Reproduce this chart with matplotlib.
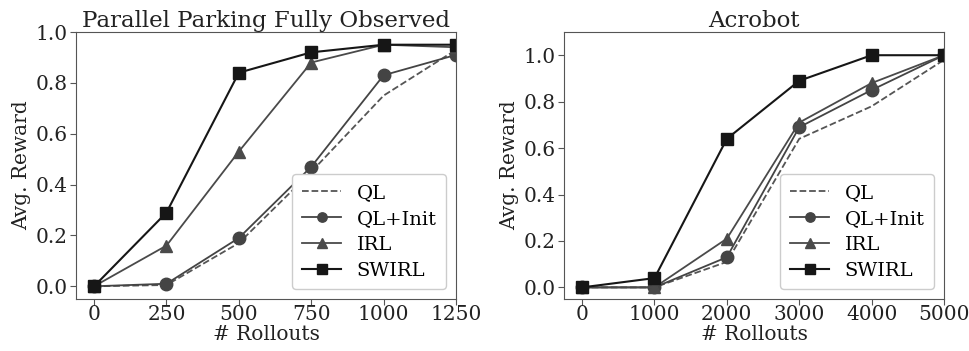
import matplotlib
matplotlib.use("Agg")
import matplotlib.pyplot as plt

plt.rcParams['font.family'] = ['DejaVu Serif']

park_x = [0, 250, 500, 750, 1000, 1250]
park_ql = [0.0, 0.005, 0.17, 0.45, 0.75, 0.93]
park_qlinit = [0.0, 0.01, 0.19, 0.47, 0.83, 0.91]
park_irl = [0.0, 0.16, 0.53, 0.88, 0.95, 0.94]
park_swirl = [0.0, 0.29, 0.84, 0.92, 0.95, 0.95]

acro_x = [0, 1000, 2000, 3000, 4000, 5000]
acro_ql = [0.0, 0.0, 0.11, 0.64, 0.78, 0.98]
acro_qlinit = [0.0, 0.0, 0.13, 0.69, 0.85, 1.0]
acro_irl = [0.0, 0.0, 0.21, 0.71, 0.88, 1.0]
acro_swirl = [0.0, 0.04, 0.64, 0.89, 1.0, 1.0]

fig = plt.figure(figsize=(9.7, 3.51), dpi=100)
ax1 = fig.add_axes([76/970, 1 - 299/351, 380/970, 267/351])
ax2 = fig.add_axes([564/970, 1 - 299/351, 380/970, 267/351])


def draw(ax, x, ql, qlinit, irl, swirl, title, xticks, xlim, ylim):
    ax.plot(x, ql, '--', color='#555555', lw=1.3, label='QL')
    ax.plot(x, qlinit, '-o', color='#444444', lw=1.3, ms=9, label='QL+Init')
    ax.plot(x, irl, '-^', color='#4a4a4a', lw=1.3, ms=9, label='IRL')
    ax.plot(x, swirl, '-s', color='#161616', lw=1.5, ms=9, label='SWIRL')
    ax.set_xlim(*xlim)
    ax.set_ylim(*ylim)
    ax.set_xticks(xticks)
    ax.set_yticks([0.0, 0.2, 0.4, 0.6, 0.8, 1.0])
    ax.set_yticklabels(['0.0', '0.2', '0.4', '0.6', '0.8', '1.0'])
    ax.tick_params(labelsize=14.5, colors='#222222', length=4, color='#555555', pad=2)
    ax.tick_params(axis='x', pad=0)
    for s in ax.spines.values():
        s.set_color('#555555')
    ax.set_xlabel('# Rollouts', fontsize=14.5, color='#222222', labelpad=1)
    ax.set_ylabel('Avg. Reward', fontsize=14.5, color='#222222', labelpad=3)
    ax.set_title(title, fontsize=16.5, color='#222222', pad=2)
    ax.legend(loc='lower right', fontsize=14, handlelength=2.0, markerscale=0.75,
              framealpha=1, edgecolor='#cccccc', borderpad=0.5, labelspacing=0.4,
              handletextpad=0.8)


draw(ax1, park_x, park_ql, park_qlinit, park_irl, park_swirl,
     'Parallel Parking Fully Observed', park_x, (-62.5, 1250), (-0.05, 1.0))
draw(ax2, acro_x, acro_ql, acro_qlinit, acro_irl, acro_swirl,
     'Acrobot', acro_x, (-250, 5000), (-0.05, 1.1))

fig.savefig('out.png', dpi=100)
